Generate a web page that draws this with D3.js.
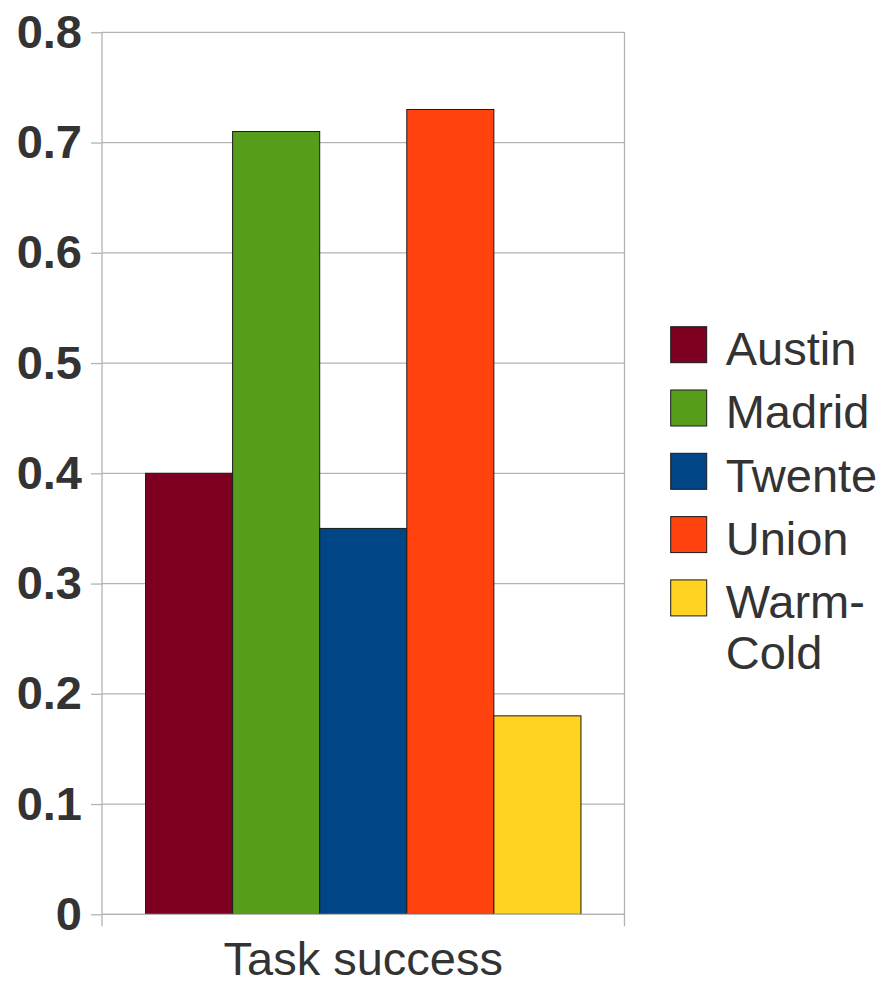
<!DOCTYPE html>
<html>
<head>
<meta charset="utf-8">
<script src="https://cdn.jsdelivr.net/npm/d3@7"></script>
<style>
  html, body { margin: 0; padding: 0; background: #fff; }
  svg { display: block; font-family: "Liberation Sans", Arial, sans-serif; }
</style>
</head>
<body>
<svg id="chart" width="883" height="981"></svg>
<script>
// Chart data
const categories = ["Task success"];
const seriesNames = ["Austin", "Madrid", "Twente", "Union", "Warm-Cold"];
const seriesValues = [0.40, 0.71, 0.35, 0.73, 0.18];
const seriesColors = ["#7e0021", "#579d1c", "#004586", "#ff420e", "#ffd320"];
const yTicks = [0, 0.1, 0.2, 0.3, 0.4, 0.5, 0.6, 0.7, 0.8];
const yTickLabels = ["0", "0.1", "0.2", "0.3", "0.4", "0.5", "0.6", "0.7", "0.8"];
const legendLines = [["Austin"], ["Madrid"], ["Twente"], ["Union"], ["Warm-", "Cold"]];

const svg = d3.select("#chart");
const textColor = "#333333";
const gridColor = "#b3b3b3";

const plot = { left: 102, right: 624.5, top: 32.3, bottom: 914.3 };

const y = d3.scaleLinear().domain([0, 0.8]).range([plot.bottom, plot.top]);
const xCat = d3.scaleBand().domain(categories).range([plot.left, plot.right]).padding(0);
const xSeries = d3.scaleBand().domain(seriesNames)
  .range([0, xCat.bandwidth()]).paddingInner(0).paddingOuter(0.5);

// Horizontal grid lines
svg.append("g").selectAll("line").data(yTicks).join("line")
  .attr("x1", plot.left).attr("x2", plot.right)
  .attr("y1", d => y(d)).attr("y2", d => y(d))
  .attr("stroke", gridColor).attr("stroke-width", 1.3);

// Right wall edge
svg.append("line")
  .attr("x1", plot.right).attr("x2", plot.right)
  .attr("y1", plot.top).attr("y2", plot.bottom + 12)
  .attr("stroke", gridColor).attr("stroke-width", 1.3);

// Value axis
const yAxis = d3.axisLeft(y).tickValues(yTicks)
  .tickFormat((d, i) => yTickLabels[i]).tickSize(11).tickPadding(9);
const yg = svg.append("g").attr("transform", `translate(${plot.left},0)`).call(yAxis);
yg.select(".domain").remove();
yg.selectAll(".tick line").attr("stroke", gridColor).attr("stroke-width", 1.3);
yg.selectAll(".tick text")
  .attr("fill", textColor)
  .style("font-size", "47px").style("font-weight", "bold")
  .style("font-family", "'Liberation Sans', Arial, sans-serif");
svg.append("line")
  .attr("x1", plot.left).attr("x2", plot.left)
  .attr("y1", plot.top).attr("y2", plot.bottom + 12)
  .attr("stroke", gridColor).attr("stroke-width", 1.3);

// Bars
const groups = svg.append("g").selectAll("g").data(categories).join("g")
  .attr("transform", d => `translate(${xCat(d)},0)`);
groups.selectAll("rect")
  .data(() => seriesNames.map((name, i) => ({ name, value: seriesValues[i], color: seriesColors[i] })))
  .join("rect")
  .attr("x", d => xSeries(d.name))
  .attr("y", d => y(d.value))
  .attr("width", xSeries.bandwidth())
  .attr("height", d => y(0) - y(d.value))
  .attr("fill", d => d.color)
  .attr("stroke", "#1a1a1a").attr("stroke-width", 1);

// Category axis
svg.append("line")
  .attr("x1", plot.left).attr("x2", plot.right)
  .attr("y1", y(0)).attr("y2", y(0))
  .attr("stroke", gridColor).attr("stroke-width", 1.3);
svg.append("g").selectAll("text").data(categories).join("text")
  .attr("x", d => xCat(d) + xCat.bandwidth() / 2)
  .attr("y", 975)
  .attr("text-anchor", "middle")
  .attr("fill", textColor)
  .style("font-size", "47px")
  .text(d => d);

// Legend
const legend = svg.append("g");
const legendTop = 326.7, legendStep = 63.3;
seriesNames.forEach((name, i) => {
  const g = legend.append("g").attr("transform", `translate(670.7,${legendTop + i * legendStep})`);
  g.append("rect").attr("width", 36).attr("height", 36)
    .attr("fill", seriesColors[i]).attr("stroke", "#1a1a1a").attr("stroke-width", 1);
  const t = g.append("text").attr("x", 55).attr("y", 38.3)
    .attr("fill", textColor).style("font-size", "47px");
  legendLines[i].forEach((line, j) => {
    t.append("tspan").attr("x", 55).attr("dy", j === 0 ? 0 : 51).text(line);
  });
});
</script>
</body>
</html>
